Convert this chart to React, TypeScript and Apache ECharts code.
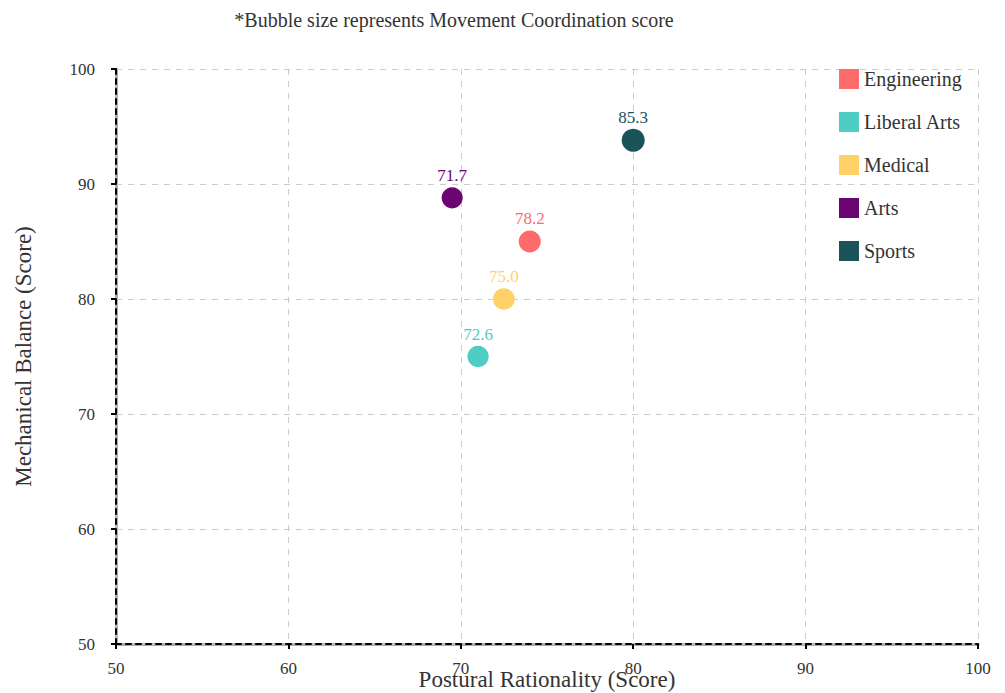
import React, { useEffect, useRef } from "react";
import * as echarts from "echarts";

const categories = ["Engineering", "Liberal Arts", "Medical", "Arts", "Sports"];
const posturalRationality = [74, 71, 72.5, 69.5, 80];
const mechanicalBalance = [85, 75, 80, 88.8, 93.8];
const movementCoordination = [78.2, 72.6, 75.0, 71.7, 85.3];
const colors = ["#FF6B6B", "#4ECDC4", "#FFD166", "#6A0572", "#1B535B"];
const axisTicks = [50, 60, 70, 80, 90, 100];

const FONT = "'Liberation Serif', 'Times New Roman', serif";

export default function App() {
  const ref = useRef<HTMLDivElement>(null);
  useEffect(() => {
    if (!ref.current) return;
    const chart = echarts.init(ref.current, undefined, { renderer: "svg" });
    const series = categories.map((name, i) => ({
      name,
      type: "scatter",
      data: [[posturalRationality[i], mechanicalBalance[i], movementCoordination[i]]],
      symbolSize: (v: number[]) => Math.sqrt(v[2]) * 2.5,
      itemStyle: { color: colors[i], opacity: 1 },
      label: {
        show: true,
        position: "top",
        distance: 3,
        formatter: (p: any) => p.value[2].toFixed(1),
        color: colors[i],
        fontSize: 17,
        fontFamily: FONT,
      },
    }));
    const range = { type: "value", min: axisTicks[0], max: axisTicks[axisTicks.length - 1], interval: 10 };
    const axisCommon = {
      ...range,
      z: 2,
      nameLocation: "middle",
      nameMoveOverlap: false,
      nameTextStyle: { fontSize: 23, fontFamily: FONT, color: "#333" },
      axisLine: { show: true, lineStyle: { color: "#000", width: 2, type: [5, 5] } },
      axisTick: { show: true, length: 5, lineStyle: { color: "#000", width: 2 } },
      splitLine: { show: true, lineStyle: { color: "#ccc", width: 1, type: [6, 6] } },
    };
    const underAxis = {
      ...range,
      z: 1,
      axisLine: { show: true, lineStyle: { color: "#aaa", width: 3 } },
      axisTick: { show: false },
      axisLabel: { show: false },
      splitLine: { show: false },
    };
    chart.setOption({
      animation: false,
      title: {
        text: "*Bubble size represents Movement Coordination score",
        left: 449,
        textAlign: "center",
        top: 5,
        textStyle: { fontSize: 20, fontWeight: "normal", fontFamily: FONT, color: "#333" },
      },
      legend: {
        orient: "vertical",
        left: 834,
        top: 64,
        icon: "rect",
        itemWidth: 20,
        itemHeight: 20,
        itemGap: 23,
        textStyle: { fontSize: 20, fontFamily: FONT, color: "#333" },
        data: categories,
      },
      grid: {
        left: 116,
        right: 27,
        top: 69,
        bottom: 49,
        containLabel: false,
        outerBoundsMode: "none",
      },
      xAxis: [
        {
          ...axisCommon,
          name: "Postural Rationality (Score)",
          nameGap: 24,
          position: "bottom",
          axisLabel: { fontSize: 17, fontFamily: FONT, color: "#333", margin: 16 },
        },
        { ...underAxis, position: "bottom" },
      ],
      yAxis: [
        {
          ...axisCommon,
          name: "Mechanical Balance (Score)",
          nameGap: 81,
          position: "left",
          axisLabel: { fontSize: 17, fontFamily: FONT, color: "#333", margin: 21 },
        },
        { ...underAxis, position: "left" },
      ],
      series,
    });
    return () => chart.dispose();
  }, []);
  return (
    <div
      ref={ref}
      style={{ position: "fixed", left: 0, top: 0, width: 1005, height: 693, background: "#fff" }}
    />
  );
}
